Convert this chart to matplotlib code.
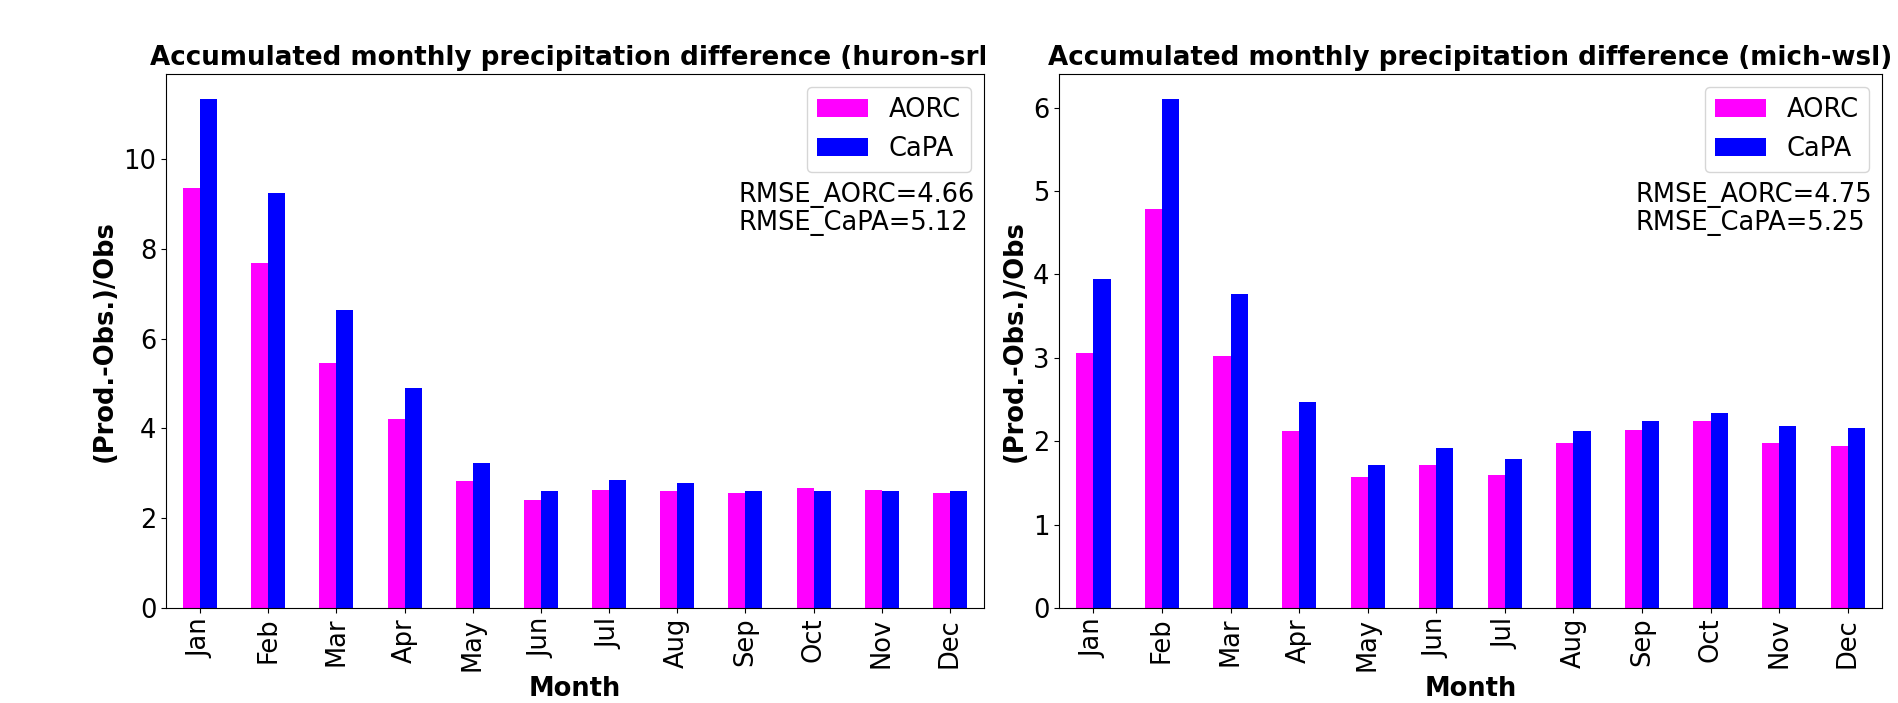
# Monthly accumulated precipitation difference, AORC vs CaPA, two basins

import numpy as np
import matplotlib.pyplot as plt
from matplotlib.transforms import Bbox, TransformedBbox

months = ['Jan', 'Feb', 'Mar', 'Apr', 'May', 'Jun',
          'Jul', 'Aug', 'Sep', 'Oct', 'Nov', 'Dec']

# huron-srl
huron_aorc = [9.36, 7.69, 5.46, 4.22, 2.82, 2.41, 2.64, 2.60, 2.56, 2.67, 2.64, 2.56]
huron_capa = [11.33, 9.25, 6.63, 4.90, 3.22, 2.60, 2.85, 2.78, 2.60, 2.60, 2.60, 2.60]

# mich-wsl
mich_aorc = [3.06, 4.79, 3.02, 2.12, 1.57, 1.71, 1.59, 1.98, 2.14, 2.24, 1.98, 1.94]
mich_capa = [3.95, 6.10, 3.77, 2.47, 1.71, 1.92, 1.79, 2.12, 2.24, 2.34, 2.18, 2.16]

basins = ['huron-srl', 'mich-wsl']
rmse = [(4.66, 5.12), (4.75, 5.25)]

fs = 18.5
fig = plt.figure(figsize=(18.99, 7.03), dpi=100)
ax1 = fig.add_axes([0.0874, 0.135, 0.4308, 0.7600])
ax2 = fig.add_axes([0.5577, 0.135, 0.4334, 0.7600])

x = np.arange(len(months))
w = 0.25
for ax, a, c, name, (ra, rc) in zip([ax1, ax2], [huron_aorc, mich_aorc],
                                    [huron_capa, mich_capa], basins, rmse):
    ax.bar(x - w/2, a, w, color='magenta', label='AORC')
    ax.bar(x + w/2, c, w, color='blue', label='CaPA')
    ax.set_xlim(-0.5, len(months) - 0.5)
    ax.set_xticks(x)
    ax.set_xticklabels(months, rotation=90)
    ax.tick_params(labelsize=fs)
    ax.set_xlabel('Month', fontsize=fs, fontweight='bold', labelpad=4)
    ax.set_ylabel('(Prod.-Obs.)/Obs', fontsize=fs, fontweight='bold')
    t = ax.set_title(f'Accumulated monthly precipitation difference ({name})',
                     fontsize=18.8, fontweight='bold')
    if ax is ax1:
        # left panel title is cut at the panel edge in the original
        clip = TransformedBbox(Bbox([[0, 0], [0.5185, 1]]), fig.transFigure)
        t.set_clip_box(clip)
        t.set_clip_on(True)
    ax.legend(loc='upper right', fontsize=fs)
    ax.text(0.70, 0.797, f'RMSE_AORC={ra:.2f}\nRMSE_CaPA={rc:.2f}',
            transform=ax.transAxes, ha='left', va='top', fontsize=fs,
            linespacing=1.1)

fig.savefig('out.png')
